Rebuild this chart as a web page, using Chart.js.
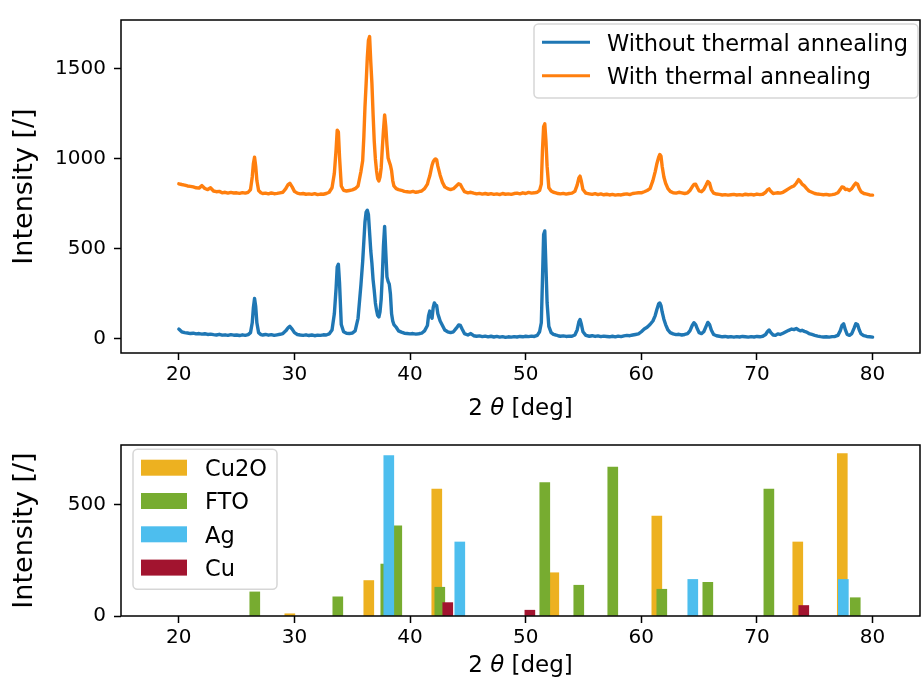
<!DOCTYPE html>
<html><head><meta charset="utf-8">
<script src="https://cdn.jsdelivr.net/npm/chart.js@4.4.1/dist/chart.umd.min.js"></script>
<style>
html,body{margin:0;padding:0;background:#fff;}
#wrap{position:relative;width:922px;height:686px;overflow:hidden;background:#fff;}
canvas{position:absolute;left:0;}
</style></head><body>
<div id="wrap">
<canvas id="topChart" width="922" height="425" style="top:0;width:922px;height:425px"></canvas>
<canvas id="botChart" width="922" height="261" style="top:425px;width:922px;height:261px"></canvas>
</div>
<script>
// ---------- DATA ----------
const twoTheta = [
20.0, 20.25, 20.5, 20.75, 21.0, 21.25, 21.5, 21.75, 22.0, 22.25,
22.5, 22.75, 23.0, 23.25, 23.5, 23.75, 24.0, 24.25, 24.5, 24.75,
25.0, 25.25, 25.5, 25.75, 26.0, 26.2, 26.35, 26.45, 26.55, 26.65,
26.75, 26.9, 27.1, 27.25, 27.5, 27.75, 28.0, 28.25, 28.5, 28.75,
29.0, 29.25, 29.45, 29.6, 29.8, 30.0, 30.25, 30.5, 30.75, 31.0,
31.25, 31.5, 31.75, 32.0, 32.25, 32.5, 32.75, 33.0, 33.25, 33.45,
33.6, 33.7, 33.8, 33.9, 34.05, 34.25, 34.5, 34.75, 35.0, 35.25,
35.5, 35.75, 35.9, 36.0, 36.1, 36.2, 36.3, 36.4, 36.5, 36.6,
36.7, 36.8, 36.9, 37.0, 37.1, 37.2, 37.3, 37.4, 37.5, 37.6,
37.7, 37.8, 37.9, 38.0, 38.1, 38.2, 38.3, 38.4, 38.5, 38.6,
38.8, 39.0, 39.25, 39.5, 39.75, 40.0, 40.25, 40.5, 40.75, 41.0,
41.25, 41.5, 41.6, 41.7, 41.8, 41.9, 42.0, 42.1, 42.2, 42.3,
42.4, 42.5, 42.6, 42.8, 43.0, 43.25, 43.5, 43.75, 44.0, 44.2,
44.35, 44.5, 44.7, 45.0, 45.25, 45.5, 45.75, 46.0, 46.25, 46.5,
46.75, 47.0, 47.25, 47.5, 47.75, 48.0, 48.25, 48.5, 48.75, 49.0,
49.25, 49.5, 49.75, 50.0, 50.25, 50.5, 50.75, 51.0, 51.2, 51.35,
51.45, 51.55, 51.65, 51.75, 51.85, 52.0, 52.2, 52.4, 52.6, 52.8,
53.0, 53.25, 53.5, 53.75, 54.0, 54.25, 54.45, 54.6, 54.7, 54.8,
54.95, 55.2, 55.5, 55.75, 56.0, 56.25, 56.5, 56.75, 57.0, 57.25,
57.5, 57.75, 58.0, 58.25, 58.5, 58.75, 59.0, 59.25, 59.5, 59.75,
60.0, 60.25, 60.5, 60.75, 61.0, 61.2, 61.35, 61.5, 61.6, 61.7,
61.8, 61.95, 62.1, 62.3, 62.5, 62.75, 63.0, 63.25, 63.5, 63.75,
64.0, 64.2, 64.4, 64.55, 64.7, 64.85, 65.0, 65.2, 65.4, 65.6,
65.75, 65.9, 66.05, 66.25, 66.5, 66.75, 67.0, 67.25, 67.5, 67.75,
68.0, 68.25, 68.5, 68.75, 69.0, 69.25, 69.5, 69.75, 70.0, 70.25,
70.5, 70.75, 70.9, 71.05, 71.2, 71.4, 71.6, 71.8, 72.0, 72.25,
72.5, 72.75, 73.0, 73.2, 73.4, 73.6, 73.75, 73.9, 74.1, 74.3,
74.5, 74.75, 75.0, 75.25, 75.5, 75.75, 76.0, 76.25, 76.5, 76.75,
77.0, 77.2, 77.35, 77.5, 77.65, 77.8, 78.0, 78.2, 78.4, 78.55,
78.7, 78.85, 79.0, 79.25, 79.5, 79.75, 80.0
];
const withoutAnnealing = [
55, 40, 35, 33, 30, 32, 28, 30, 27, 29,
25, 27, 24, 22, 26, 21, 23, 20, 24, 21,
22, 19, 23, 20, 24, 35, 90, 175, 225, 180,
90, 35, 24, 22, 25, 21, 24, 20, 23, 26,
30, 45, 62, 70, 55, 35, 25, 22, 20, 23,
19, 22, 18, 21, 20, 23, 22, 28, 50, 140,
280, 400, 415, 310, 80, 40, 32, 30, 33, 45,
115, 300, 430, 540, 650, 705, 715, 690, 590, 490,
420, 330, 270, 200, 160, 130, 122, 150, 220, 350,
520, 625, 480, 345, 320, 305, 250, 140, 100, 80,
65, 45, 38, 32, 30, 28, 30, 27, 29, 32,
45, 75, 130, 155, 130, 115, 175, 200, 190, 185,
140, 120, 100, 75, 50, 40, 35, 40, 60, 78,
75, 55, 30, 22, 30, 18, 15, 17, 13, 16,
12, 15, 11, 14, 10, 13, 9, 12, 10, 13,
11, 14, 12, 15, 13, 16, 14, 20, 40, 90,
330, 580, 600, 400, 200, 70, 35, 25, 22, 18,
15, 17, 14, 16, 15, 22, 50, 95, 108, 85,
40, 20, 15, 18, 14, 17, 13, 16, 14, 12,
15, 12, 16, 13, 17, 20, 18, 22, 25, 28,
40, 55, 65, 80, 100, 130, 165, 195, 200, 185,
150, 110, 80, 50, 35, 28, 24, 26, 22, 25,
30, 45, 75, 90, 80, 55, 35, 30, 40, 70,
92, 80, 50, 25, 18, 15, 12, 14, 11, 13,
10, 13, 11, 14, 12, 10, 13, 11, 14, 12,
15, 25, 40, 50, 35, 22, 20, 28, 25, 32,
40, 48, 55, 52, 58, 50, 45, 48, 42, 38,
30, 25, 20, 16, 13, 11, 12, 10, 13, 14,
20, 45, 75, 84, 50, 25, 20, 30, 60, 85,
80, 50, 28, 18, 14, 12, 10
];
const withAnnealing = [
862, 858, 855, 850, 848, 845, 840, 838, 852, 836,
830, 840, 822, 818, 820, 812, 815, 810, 814, 811,
812, 809, 813, 810, 815, 830, 900, 975, 1010, 960,
880, 825, 812, 808, 810, 806, 811, 807, 809, 812,
815, 835, 858, 865, 845, 820, 810, 806, 808, 804,
806, 803, 807, 802, 805, 804, 808, 815, 840, 920,
1050, 1160, 1150, 1010, 850, 826, 822, 825, 828, 835,
850, 930, 990, 1120, 1290, 1420, 1560, 1660, 1680, 1540,
1420, 1250, 1100, 1000, 935, 890, 878, 900, 950, 1060,
1160, 1245, 1180, 1080, 1005, 985, 965, 935, 880, 850,
835, 830, 826, 820, 818, 816, 820, 815, 818, 822,
835, 860, 885, 905, 935, 965, 985, 995, 1000, 995,
960, 935, 910, 870, 845, 835, 830, 835, 850, 862,
858, 840, 818, 812, 815, 810, 806, 809, 805, 808,
804, 807, 803, 806, 802, 808, 804, 806, 803, 808,
810, 806, 812, 808, 814, 810, 812, 815, 825, 860,
1050, 1180, 1195, 1100, 960, 840, 822, 815, 812, 808,
806, 809, 805, 808, 810, 820, 855, 895, 905, 880,
830, 810, 806, 803, 807, 802, 806, 801, 804, 800,
803, 799, 802, 800, 804, 806, 802, 808, 810, 812,
812, 818, 825, 835, 880, 930, 975, 1010, 1025, 1015,
960, 900, 865, 835, 820, 812, 810, 815, 812, 808,
812, 825, 845, 858, 860, 840, 822, 818, 830, 855,
875, 865, 830, 810, 805, 803, 800, 802, 799, 801,
803, 800, 802, 799, 804, 801, 803, 800, 805, 802,
804, 815, 828, 834, 820, 808, 810, 812, 810, 815,
825, 835, 845, 850, 865, 885, 875, 860, 850, 835,
822, 815, 808, 805, 803, 801, 803, 800, 802, 805,
812, 830, 845, 842, 830, 832, 825, 835, 855, 866,
860, 835, 818, 808, 805, 800, 799
];
const seriesLabels = ['Without thermal annealing', 'With thermal annealing'];

// reference peaks (bottom panel)
const cu2oPos = [29.6, 36.43, 42.31, 52.43, 61.34, 73.53, 77.38];
const cu2oInt = [10, 159, 569, 194, 448, 332, 728];
const ftoPos  = [26.57, 33.75, 37.9, 38.85, 42.57, 51.65, 54.59, 57.53, 61.77, 65.75, 71.03, 78.5];
const ftoInt  = [108, 86, 233, 405, 129, 599, 138, 668, 120, 151, 569, 82];
const agPos   = [38.16, 44.3, 64.45, 77.47];
const agInt   = [720, 332, 164, 164];
const cuPos   = [43.26, 50.36, 74.05];
const cuInt   = [60, 26, 47];
const phaseLabels = ['Cu2O', 'FTO', 'Ag', 'Cu'];

// tick labels
const xTicks = [20, 30, 40, 50, 60, 70, 80];
const topYTicks = [0, 500, 1000, 1500];
const botYTicks = [0, 500];
const yLabel = 'Intensity [/]';

// ---------- STYLE ----------
const FONT = '"DejaVu Sans", "Liberation Sans", sans-serif';
Chart.defaults.font.family = FONT;
Chart.defaults.font.size = 20;
Chart.defaults.color = '#000';
const C_BLUE = '#1f77b4', C_ORANGE = '#ff7f0e';
const C_CU2O = '#EDB120', C_FTO = '#77AC30', C_AG = '#4DBEEE', C_CU = '#A2142F';
const X_MIN = 15.0, X_MAX = 84.1;

function drawXLabel(ctx, cx, cy) {
  const size = 23;
  const parts = [['2 ', `${size}px ${FONT}`], ['θ', `italic ${size}px ${FONT}`], [' [deg]', `${size}px ${FONT}`]];
  let total = 0;
  const widths = parts.map(p => { ctx.font = p[1]; const w = ctx.measureText(p[0]).width; total += w; return w; });
  let x = cx - total / 2;
  ctx.textAlign = 'left'; ctx.textBaseline = 'middle'; ctx.fillStyle = '#000';
  parts.forEach((p, i) => { ctx.font = p[1]; ctx.fillText(p[0], x, cy); x += widths[i]; });
}
function legendBox(ctx, x, y, w, h) {
  ctx.beginPath();
  ctx.roundRect(x, y, w, h, 4.5);
  ctx.fillStyle = 'rgba(255,255,255,0.8)';
  ctx.fill();
  ctx.lineWidth = 1.5;
  ctx.strokeStyle = 'rgba(204,204,204,0.8)';
  ctx.stroke();
}
function decor(cfg) {
  return {
    id: 'decor',
    afterDraw(chart) {
      const {ctx, chartArea: a} = chart;
      ctx.save();
      ctx.strokeStyle = '#000'; ctx.lineWidth = 1.5;
      ctx.strokeRect(a.left, a.top, a.right - a.left, a.bottom - a.top);
      ctx.fillStyle = '#000';
      ctx.font = `27px ${FONT}`;
      ctx.textAlign = 'center'; ctx.textBaseline = 'middle';
      ctx.save();
      ctx.translate(cfg.ylabelX, (a.top + a.bottom) / 2);
      ctx.rotate(-Math.PI / 2);
      ctx.fillText(yLabel, 0, 0);
      ctx.restore();
      drawXLabel(ctx, (a.left + a.right) / 2, cfg.xlabelY);
      cfg.legend(ctx);
      ctx.restore();
    }
  };
}
function axis(extra, tickList, fit, pad) {
  return Object.assign({
    type: 'linear', offset: false,
    grid: {display: true, drawOnChartArea: false, drawTicks: true, tickLength: 7, tickWidth: 1.5, tickColor: '#000', offset: false},
    border: {display: false},
    ticks: {color: '#000', font: {family: FONT, size: 20}, padding: pad, maxRotation: 0, autoSkip: false, callback: v => String(v)},
    afterBuildTicks: s => { s.ticks = tickList.map(v => ({value: v})); },
    afterFit: fit
  }, extra);
}

// ---------- TOP CHART ----------
const lineData = (ys) => twoTheta.map((x, i) => ({x, y: ys[i]}));
const lineStyle = {borderWidth: 3.4, pointRadius: 0, tension: 0, borderJoinStyle: 'round', borderCapStyle: 'round', fill: false};
new Chart(document.getElementById('topChart'), {
  type: 'line',
  data: {datasets: [
    Object.assign({label: seriesLabels[0], data: lineData(withoutAnnealing), borderColor: C_BLUE}, lineStyle),
    Object.assign({label: seriesLabels[1], data: lineData(withAnnealing), borderColor: C_ORANGE}, lineStyle)
  ]},
  options: {
    responsive: false, animation: false, events: [],
    layout: {padding: {top: 13, right: 2, left: 0, bottom: 0}},
    scales: {
      x: axis({min: X_MIN, max: X_MAX}, xTicks, s => { s.height = 72; }, 3),
      y: axis({min: -78, max: 1772}, topYTicks, s => { s.width = 121; }, 8)
    },
    plugins: {legend: {display: false}, tooltip: {enabled: false}}
  },
  plugins: [decor({ylabelX: 25, xlabelY: 409, legend: (ctx) => {
    legendBox(ctx, 534, 24, 384, 74);
    const rows = [42.3, 75.7], cols = [C_BLUE, C_ORANGE];
    rows.forEach((ry, i) => {
      ctx.beginPath(); ctx.moveTo(542, ry); ctx.lineTo(590, ry);
      ctx.strokeStyle = cols[i]; ctx.lineWidth = 3; ctx.lineCap = 'butt'; ctx.stroke();
      ctx.font = `22.5px ${FONT}`; ctx.fillStyle = '#000'; ctx.textAlign = 'left'; ctx.textBaseline = 'alphabetic';
      ctx.fillText(seriesLabels[i], 607, ry + 8.3);
    });
  }})]
});

// ---------- BOTTOM CHART ----------
const barData = (xs, ys) => xs.map((x, i) => ({x, y: ys[i]}));
const barCommon = {barThickness: 10, borderWidth: 0, grouped: false};
const phaseColors = [C_CU2O, C_FTO, C_AG, C_CU];
new Chart(document.getElementById('botChart'), {
  type: 'bar',
  data: {datasets: [
    Object.assign({label: phaseLabels[0], data: barData(cu2oPos, cu2oInt), backgroundColor: C_CU2O, order: 4}, barCommon),
    Object.assign({label: phaseLabels[1], data: barData(ftoPos, ftoInt), backgroundColor: C_FTO, order: 3}, barCommon),
    Object.assign({label: phaseLabels[2], data: barData(agPos, agInt), backgroundColor: C_AG, order: 2}, barCommon),
    Object.assign({label: phaseLabels[3], data: barData(cuPos, cuInt), backgroundColor: C_CU, order: 1}, barCommon)
  ]},
  options: {
    responsive: false, animation: false, events: [],
    layout: {padding: {top: 13, right: 2, left: 0, bottom: 0}},
    scales: {
      x: axis({min: X_MIN, max: X_MAX}, xTicks, s => { s.height = 70; }, 3),
      y: axis({min: 0, max: 767}, botYTicks, s => { s.width = 121; }, 8)
    },
    plugins: {legend: {display: false}, tooltip: {enabled: false}}
  },
  plugins: [decor({ylabelX: 25, xlabelY: 241, legend: (ctx) => {
    legendBox(ctx, 133, 24.3, 144, 140);
    phaseLabels.forEach((lab, i) => {
      const ry = 42.7 + i * 33.3;
      ctx.fillStyle = phaseColors[i];
      ctx.fillRect(141, ry - 8, 46, 16);
      ctx.font = `22.5px ${FONT}`; ctx.fillStyle = '#000'; ctx.textAlign = 'left'; ctx.textBaseline = 'alphabetic';
      ctx.fillText(lab, 205, ry + 8.3);
    });
  }})]
});
</script>
</body></html>
